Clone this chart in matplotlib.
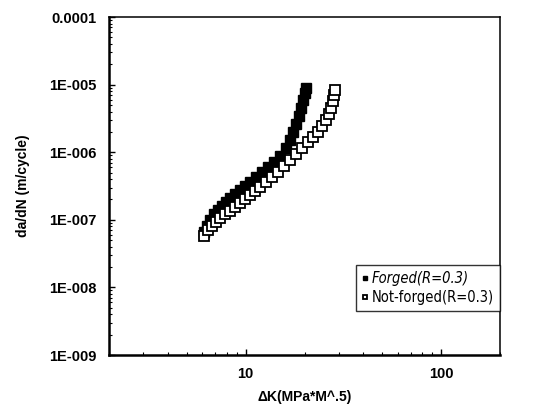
import os
import matplotlib
matplotlib.use("Agg")
import matplotlib.pyplot as plt
from matplotlib.ticker import FixedLocator, FixedFormatter, LogLocator, NullFormatter
from matplotlib import font_manager
from matplotlib.font_manager import FontProperties

plt.rcParams['font.family'] = ['Liberation Sans', 'DejaVu Sans']

forged_dk = [6.12, 6.34, 6.57, 6.89, 7.22, 7.57, 7.93, 8.32, 8.82, 9.35, 9.93, 10.5,
             11.3, 12.1, 13.0, 14.0, 15.0, 16.1, 16.9, 17.5, 18.1, 18.7, 19.2, 19.7,
             20.1, 20.4]
forged_dadn = [6.6e-8, 8.1e-8, 1.0e-7, 1.22e-7, 1.40e-7, 1.60e-7, 1.83e-7, 2.10e-7,
               2.41e-7, 2.76e-7, 3.16e-7, 3.62e-7, 4.30e-7, 5.09e-7, 6.04e-7, 7.16e-7,
               8.79e-7, 1.15e-6, 1.51e-6, 1.99e-6, 2.61e-6, 3.43e-6, 4.51e-6, 5.92e-6,
               7.52e-6, 8.91e-6]

notforged_dk = [6.12, 6.41, 6.73, 7.05, 7.39, 7.84, 8.32, 8.82, 9.35, 9.93, 10.5, 11.2,
                11.8, 12.7, 13.6, 14.6, 15.7, 16.9, 18.1, 19.4, 20.8, 22.1, 23.4, 24.6,
                25.8, 26.7, 27.3, 28.0, 28.3, 28.6]
notforged_dadn = [5.75e-8, 7.06e-8, 8.09e-8, 9.27e-8, 1.06e-7, 1.22e-7, 1.35e-7, 1.55e-7,
                  1.77e-7, 2.03e-7, 2.33e-7, 2.67e-7, 3.06e-7, 3.62e-7, 4.30e-7, 5.09e-7,
                  6.25e-7, 7.67e-7, 9.40e-7, 1.15e-6, 1.42e-6, 1.68e-6, 1.99e-6, 2.44e-6,
                  2.99e-6, 3.67e-6, 4.51e-6, 5.72e-6, 7.02e-6, 8.32e-6]

y_ticks = [1e-9, 1e-8, 1e-7, 1e-6, 1e-5, 1e-4]
y_labels = ["1E-009", "1E-008", "1E-007", "1E-006", "1E-005", "0.0001"]
x_ticks = [10, 100]
x_labels = ["10", "100"]

# look for a condensed sans font for the legend
paths = font_manager.findSystemFonts() + [f.fname for f in font_manager.fontManager.ttflist]
def find_font(names):
    for n in names:
        for p in paths:
            if os.path.basename(p).lower() == n.lower():
                return p
    return None

reg_path = find_font(['LiberationSansNarrow-Regular.ttf', 'DejaVuSansCondensed.ttf'])
ita_path = find_font(['LiberationSansNarrow-Italic.ttf', 'DejaVuSansCondensed-Oblique.ttf'])

fig = plt.figure(figsize=(5.40, 4.18), dpi=100)
ax = fig.add_axes([109/540, 1 - 355/418, (500-109)/540, (355-17)/418])
ax.set_xscale('log')
ax.set_yscale('log')
ax.set_xlim(2, 200)
ax.set_ylim(1e-9, 1e-4)

ax.plot(forged_dk, forged_dadn, linestyle='none', marker='s', ms=6.5,
        mfc='black', mec='black', mew=1.0, label='Forged(R=0.3)', zorder=3)
ax.plot(notforged_dk, notforged_dadn, linestyle='none', marker='s', ms=6.5,
        mfc='white', mec='black', mew=1.3, label='Not-forged(R=0.3)', zorder=4)

ax.yaxis.set_major_locator(FixedLocator(y_ticks))
ax.yaxis.set_major_formatter(FixedFormatter(y_labels))
ax.yaxis.set_minor_locator(LogLocator(base=10, subs=range(2, 10), numticks=20))
ax.yaxis.set_minor_formatter(NullFormatter())
ax.xaxis.set_major_locator(FixedLocator(x_ticks))
ax.xaxis.set_major_formatter(FixedFormatter(x_labels))
ax.xaxis.set_minor_locator(LogLocator(base=10, subs=range(2, 10), numticks=20))
ax.xaxis.set_minor_formatter(NullFormatter())

ax.tick_params(which='both', direction='in', top=False, right=False)
ax.tick_params(which='major', length=4, width=1, labelsize=10.5, pad=9)
ax.tick_params(which='minor', length=2, width=0.8)
for lab in ax.get_xticklabels() + ax.get_yticklabels():
    lab.set_fontweight('bold')

for s in ['left', 'bottom']:
    ax.spines[s].set_linewidth(1.8)
for s in ['top', 'right']:
    ax.spines[s].set_linewidth(1.1)

ax.set_xlabel('ΔK(MPa*M^.5)', fontsize=10, fontweight='bold', labelpad=6)
ax.set_ylabel('da/dN (m/cycle)', fontsize=10, fontweight='bold', labelpad=14)

if reg_path and ita_path:
    leg_size = 12.5 if 'Narrow' in reg_path else 10.5
    reg_fp = FontProperties(fname=reg_path, size=leg_size)
    ita_fp = FontProperties(fname=ita_path, size=leg_size)
else:
    reg_fp = FontProperties(family='Liberation Sans', size=9.5)
    ita_fp = FontProperties(family='Liberation Sans', style='italic', size=9.5)

leg = ax.legend(loc='upper right', bbox_to_anchor=(1.0, 0.266), borderaxespad=0,
                prop=reg_fp, frameon=True, fancybox=False,
                markerscale=0.55, handlelength=0.4, handletextpad=0.3, borderpad=0.4,
                labelspacing=0.3)
leg.get_frame().set_edgecolor('black')
leg.get_frame().set_linewidth(1.0)
leg.get_texts()[0].set_fontproperties(ita_fp)

fig.savefig('out.png', dpi=100)
